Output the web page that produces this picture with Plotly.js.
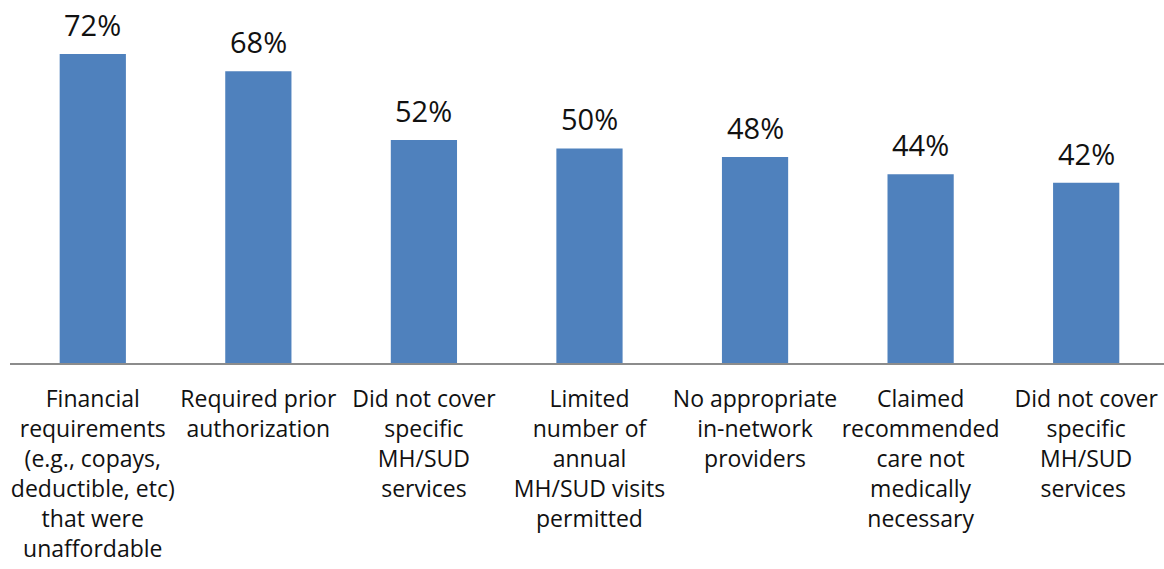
<!DOCTYPE html>
<html>
<head>
<meta charset="utf-8">
<script src="https://cdn.plot.ly/plotly-3.0.1.min.js"></script>
<style>html,body{margin:0;padding:0;background:#fff;}#chart{width:1164px;height:569px;}</style>
</head>
<body>
<div id="chart"></div>
<script>
const categories = [
  "Financial<br>requirements<br>(e.g., copays,<br>deductible, etc)<br>that were<br>unaffordable",
  "Required prior<br>authorization",
  "Did not cover<br>specific<br>MH/SUD<br>services",
  "Limited<br>number of<br>annual<br>MH/SUD visits<br>permitted",
  "No appropriate<br>in-network<br>providers",
  "Claimed<br>recommended<br>care not<br>medically<br>necessary",
  "Did not cover<br>specific<br>MH/SUD<br>services "
];
const values = [72, 68, 52, 50, 48, 44, 42];
const valueLabels = values.map(v => v + "%");

const FONT = "'Open Sans', sans-serif";

const trace = {
  type: "bar",
  x: categories,
  y: values,
  marker: {color: "#4F81BD"},
  hoverinfo: "skip"
};

const annotations = categories.map((c, i) => ({
  x: c, y: values[i], xref: "x", yref: "y",
  text: valueLabels[i], showarrow: false,
  yanchor: "bottom", yshift: 8,
  font: {family: FONT, size: 29, color: "#111"}
}));

const layout = {
  width: 1164, height: 569,
  margin: {l: 10, r: 0, t: 0, b: 206},
  paper_bgcolor: "#fff", plot_bgcolor: "#fff",
  bargap: 0.6,
  showlegend: false,
  xaxis: {
    type: "category",
    range: [-0.5, 6.47],
    showgrid: false, zeroline: false,
    showline: true, linecolor: "#8c8c8c", linewidth: 1.5,
    ticks: "", ticklabelstandoff: 15,
    tickfont: {family: FONT, size: 23, color: "#111"},
    tickangle: 0, automargin: false
  },
  yaxis: {
    range: [0, 84.6],
    visible: false, showgrid: false, zeroline: false
  },
  annotations: annotations
};

Plotly.newPlot("chart", [trace], layout, {displayModeBar: false, staticPlot: true});
</script>
</body>
</html>
